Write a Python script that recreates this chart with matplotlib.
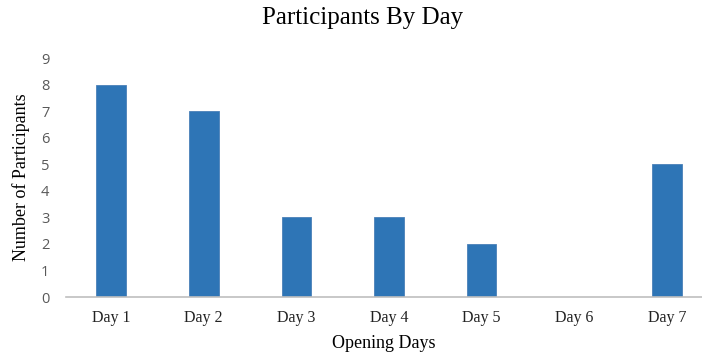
import matplotlib.pyplot as plt

days = ["Day 1", "Day 2", "Day 3", "Day 4", "Day 5", "Day 6", "Day 7"]
participants = [8, 7, 3, 3, 2, 0, 5]

fig = plt.figure(figsize=(7.02, 3.56), dpi=100)
ax = fig.add_axes([0.094, 0.1657, 0.906, 0.6713])

x = list(range(len(days)))
ax.bar(x, participants, width=0.32, color="#2E75B6", edgecolor="#4A80B8", linewidth=0.6, zorder=2)

ax.set_xlim(-0.486, 6.378)
ax.set_ylim(0, 9)
ax.set_yticks(range(0, 10))
ax.set_xticks(x)
ax.set_xticklabels(days, fontfamily="Liberation Serif", fontsize=11.5, color="#222222")
for lab in ax.get_yticklabels():
    lab.set_fontfamily("Open Sans")
    lab.set_fontsize(10.5)
    lab.set_color("#595959")
ax.tick_params(axis="y", length=0, pad=12)
ax.tick_params(axis="x", length=0, pad=9)

for side in ["top", "right", "left"]:
    ax.spines[side].set_visible(False)
ax.spines["bottom"].set_color("#BFBFBF")
ax.spines["bottom"].set_linewidth(1.2)

ax.set_xlabel("Opening Days", fontfamily="Liberation Serif", fontsize=13, labelpad=7)
ax.set_ylabel("Number of Participants", fontfamily="Liberation Serif", fontsize=13, labelpad=8)
fig.text(0.517, 0.95, "Participants By Day", fontfamily="Liberation Serif", fontsize=18,
         ha="center", va="center")

fig.savefig("out.png", dpi=100)
